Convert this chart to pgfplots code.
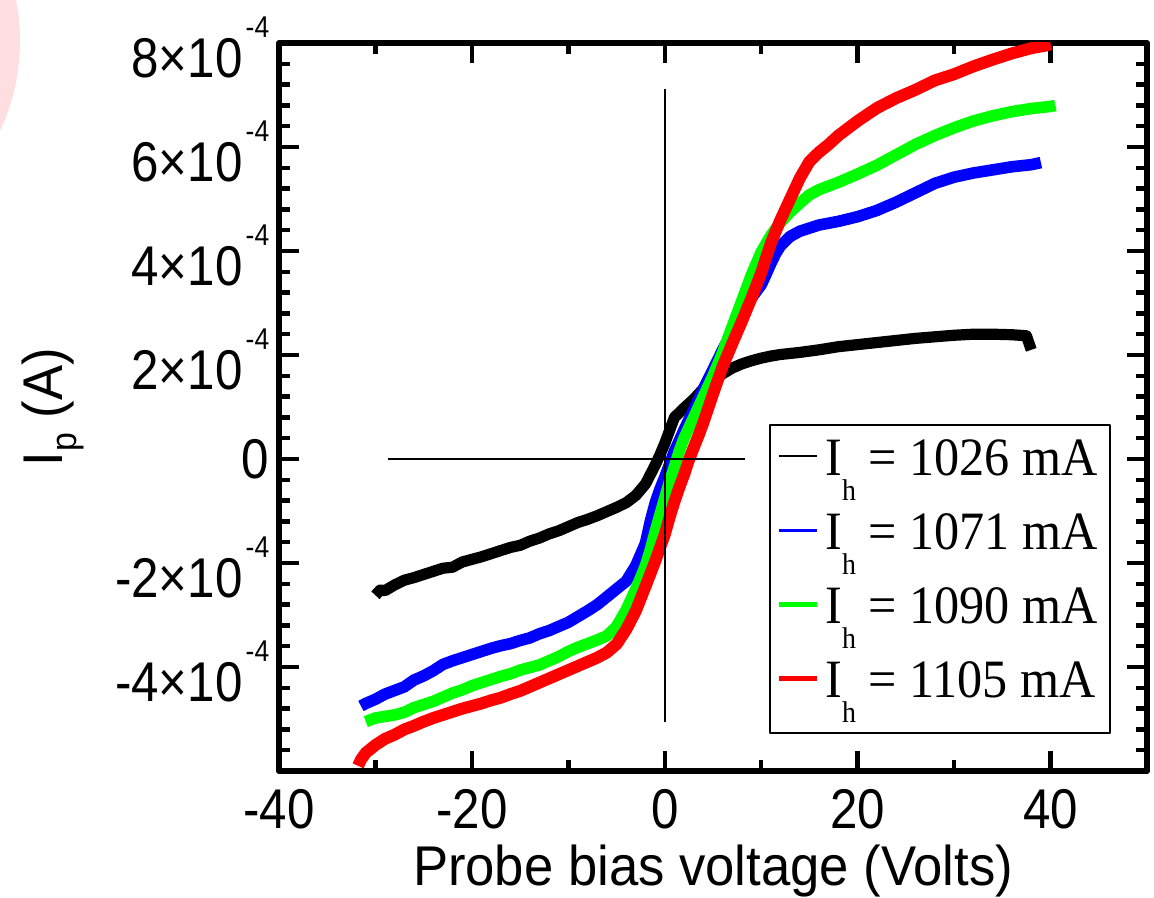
\documentclass[border=0pt]{standalone}
\usepackage{pgfplots}
\pgfplotsset{compat=1.18}
\usepackage{fontspec}
\setmainfont{Liberation Sans}[FakeStretch=0.94]
\newfontfamily\tickfont{Liberation Sans}[FakeStretch=0.88]
\newfontfamily\legfont{Liberation Serif}[FakeStretch=0.93]
\definecolor{pblue}{RGB}{0,0,255}
\definecolor{pgreen}{RGB}{0,255,0}
\definecolor{pred}{RGB}{255,0,0}
\definecolor{pinkbg}{RGB}{255,222,226}
\newcommand\sci[1]{#1×10\kern0.8pt\raisebox{10pt}{\fontsize{7.5}{7.5}\selectfont -4}\rule{0pt}{17.5pt}}
\newcommand\hsub{\raisebox{-6.25pt}{\fontsize{7.5}{7.5}\selectfont h}}

\pgfplotstableread{
x y
-30.0 -2.62
-29.5 -2.52
-29.0 -2.53
-28.0 -2.42
-27.0 -2.33
-26.0 -2.28
-25.0 -2.22
-24.0 -2.16
-23.0 -2.10
-22.0 -2.08
-21.0 -1.98
-20.0 -1.93
-19.0 -1.88
-18.0 -1.82
-17.0 -1.76
-16.0 -1.70
-15.0 -1.66
-14.0 -1.58
-13.0 -1.52
-12.0 -1.44
-11.0 -1.38
-10.0 -1.30
-9.0 -1.22
-8.0 -1.16
-7.0 -1.09
-6.0 -1.01
-5.0 -0.93
-4.0 -0.84
-3.0 -0.70
-2.0 -0.48
-1.0 -0.12
-0.5 0.08
0.0 0.30
0.5 0.55
1.0 0.80
2.0 0.98
3.0 1.15
4.0 1.35
5.0 1.52
6.0 1.64
7.0 1.75
8.0 1.83
9.0 1.89
10.0 1.94
11.0 1.98
12.0 2.01
14.0 2.05
16.0 2.10
18.0 2.16
20.0 2.20
22.0 2.24
24.0 2.28
26.0 2.32
28.0 2.35
30.0 2.38
32.0 2.40
34.0 2.40
36.0 2.39
37.5 2.37
38.0 2.10
}\blackdata

\pgfplotstableread{
x y
-31.5 -4.75
-31.0 -4.70
-30.0 -4.62
-29.0 -4.52
-28.0 -4.45
-27.0 -4.38
-26.0 -4.25
-25.0 -4.17
-24.0 -4.07
-23.0 -3.95
-22.0 -3.88
-21.0 -3.82
-20.0 -3.76
-19.0 -3.70
-18.0 -3.64
-17.0 -3.59
-16.0 -3.55
-15.0 -3.49
-14.0 -3.44
-13.0 -3.36
-12.0 -3.30
-11.0 -3.22
-10.0 -3.14
-9.0 -3.03
-8.0 -2.92
-7.0 -2.80
-6.0 -2.65
-5.0 -2.50
-4.0 -2.35
-3.0 -2.05
-2.0 -1.62
-1.5 -1.20
-1.0 -0.85
-0.5 -0.58
0.0 -0.35
0.5 -0.10
1.0 0.15
1.5 0.35
2.0 0.56
3.0 0.95
4.0 1.35
5.0 1.72
6.0 2.10
7.0 2.45
8.0 2.80
9.0 3.10
10.0 3.35
10.5 3.55
11.0 3.76
11.5 3.95
12.0 4.10
13.0 4.28
14.0 4.38
16.0 4.50
18.0 4.57
20.0 4.66
22.0 4.78
24.0 4.94
26.0 5.12
28.0 5.30
30.0 5.42
32.0 5.50
34.0 5.56
36.0 5.62
38.0 5.66
39.0 5.70
}\bluedata

\pgfplotstableread{
x y
-31.0 -5.05
-30.0 -4.98
-29.0 -4.95
-28.0 -4.92
-27.0 -4.87
-26.0 -4.78
-25.0 -4.72
-24.0 -4.66
-23.0 -4.58
-22.0 -4.50
-21.0 -4.44
-20.0 -4.36
-19.0 -4.30
-18.0 -4.24
-17.0 -4.18
-16.0 -4.13
-15.0 -4.06
-14.0 -4.01
-13.0 -3.96
-12.0 -3.88
-11.0 -3.80
-10.0 -3.70
-9.0 -3.62
-8.0 -3.55
-7.0 -3.48
-6.0 -3.40
-5.0 -3.22
-4.0 -2.90
-3.0 -2.50
-2.5 -2.28
-2.0 -2.05
-1.5 -1.75
-1.0 -1.40
-0.5 -1.07
0.0 -0.75
0.5 -0.43
1.0 -0.15
1.5 0.15
2.0 0.40
3.0 0.80
4.0 1.20
5.0 1.60
6.0 2.05
7.0 2.55
8.0 3.05
9.0 3.55
10.0 3.98
11.0 4.30
12.0 4.55
13.0 4.75
14.0 4.92
15.0 5.08
16.0 5.18
18.0 5.32
20.0 5.48
22.0 5.65
24.0 5.85
26.0 6.05
28.0 6.22
30.0 6.37
32.0 6.50
34.0 6.60
36.0 6.68
38.0 6.74
40.0 6.78
40.5 6.80
}\greendata

\pgfplotstableread{
x y
-31.8 -5.90
-31.5 -5.78
-31.0 -5.65
-30.0 -5.50
-29.0 -5.38
-28.0 -5.30
-27.0 -5.20
-26.0 -5.13
-25.0 -5.05
-24.0 -4.98
-23.0 -4.92
-22.0 -4.86
-21.0 -4.80
-20.0 -4.75
-19.0 -4.70
-18.0 -4.64
-17.0 -4.59
-16.0 -4.52
-15.0 -4.46
-14.0 -4.38
-13.0 -4.30
-12.0 -4.22
-11.0 -4.14
-10.0 -4.06
-9.0 -3.98
-8.0 -3.90
-7.0 -3.82
-6.0 -3.72
-5.0 -3.56
-4.0 -3.28
-3.0 -2.92
-2.0 -2.45
-1.0 -1.97
0.0 -1.45
0.5 -1.12
1.0 -0.82
1.5 -0.55
2.0 -0.30
2.5 -0.02
3.0 0.22
3.5 0.45
4.0 0.70
5.0 1.25
6.0 1.78
7.0 2.22
8.0 2.65
9.0 3.10
10.0 3.58
11.0 4.15
12.0 4.60
13.0 5.00
14.0 5.40
15.0 5.72
16.0 5.90
17.0 6.05
18.0 6.22
20.0 6.50
22.0 6.75
24.0 6.94
26.0 7.10
28.0 7.28
30.0 7.40
32.0 7.55
34.0 7.68
36.0 7.80
38.0 7.90
39.5 7.95
40.0 7.98
}\reddata

\begin{document}
\begin{tikzpicture}
\begin{axis}[
  scale only axis, width=217pt, height=182pt,
  xmin=-40, xmax=50, ymin=-6, ymax=8,
  axis line style={line width=1.5pt},
  tick align=inside,
  xtick={-40,-20,0,20,40}, xticklabels={-40,-20,0,20,40},
  minor x tick num=1,
  ytick={-6,-4,-2,0,2,4,6,8},
  yticklabels={{},{\sci{-4}},{\sci{-2}},{0},{\sci{2}},{\sci{4}},{\sci{6}},{\sci{8}}},
  minor y tick num=4,
  major tick length=5pt, minor tick length=2.8pt,
  every tick/.style={black, line width=1.1pt},
  xticklabel style={font=\tickfont\fontsize{14}{14}\selectfont, inner sep=0pt, text height=10pt, text depth=0pt},
  xticklabel shift=4.25pt,
  yticklabel style={font=\tickfont\fontsize{14}{14}\selectfont, inner sep=0pt},
  yticklabel shift=2.25pt,
  xlabel={Probe bias voltage (Volts)},
  xlabel style={font=\fontsize{14}{14}\selectfont, at={(axis description cs:0.5,0)}, anchor=base, yshift=-28.5pt},
  ylabel={I\raisebox{-3.5pt}{\fontsize{9}{9}\selectfont p} (A)},
  ylabel style={font=\fontsize{14}{14}\selectfont, at={(axis description cs:-0.25,0.5)}, anchor=base},
  legend style={at={(0.5645,0.4766)}, anchor=north west, draw=black, line width=0.6pt, fill=white,
    inner xsep=1.5pt, inner ysep=1.5pt, row sep=0pt, column sep=0pt,
    font=\legfont\fontsize{13.5}{13.5}\selectfont,
    nodes={inner xsep=1.5pt, inner ysep=1pt, text height=10pt, text depth=6.5pt},
    cells={anchor=west}},
  legend image code/.code={\draw[#1] (0pt,3pt) -- (9.5pt,3pt);},
  line join=round,
]
\addplot[black, line width=2.8pt, forget plot] table[x=x,y=y] {\blackdata};
\addplot[pblue, line width=2.9pt, forget plot] table[x=x,y=y] {\bluedata};
\addplot[pgreen, line width=2.9pt, forget plot] table[x=x,y=y] {\greendata};
\addplot[pred, line width=3.0pt, forget plot] table[x=x,y=y] {\reddata};
\addplot[black, line width=0.5pt, forget plot] coordinates {(0,-5.06) (0,7.11)};
\addplot[black, line width=0.5pt, forget plot] coordinates {(-28.7,0) (8.3,0)};
\addlegendimage{black, line width=0.6pt}
\addlegendentry{I\hsub\ = 1026 mA}
\addlegendimage{pblue, line width=0.8pt}
\addlegendentry{I\hsub\ = 1071 mA}
\addlegendimage{pgreen, line width=1.3pt}
\addlegendentry{I\hsub\ = 1090 mA}
\addlegendimage{pred, line width=1.3pt}
\addlegendentry{I\hsub\ = 1105 mA}
\end{axis}
\fill[pinkbg] ([shift={(-117.75pt,182.5pt)}]current axis.south west) circle[radius=53pt];
\pgfresetboundingbox
\path[use as bounding box] ([shift={(-69.75pt,-31.5pt)}]current axis.south west) rectangle ([shift={(1.75pt,10.75pt)}]current axis.north east);
\end{tikzpicture}
\end{document}
